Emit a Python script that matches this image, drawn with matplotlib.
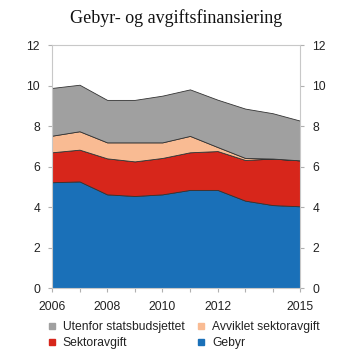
import matplotlib
matplotlib.use("Agg")
import matplotlib.pyplot as plt
from matplotlib.lines import Line2D

years = [2006, 2007, 2008, 2009, 2010, 2011, 2012, 2013, 2014, 2015]
gebyr = [5.23, 5.27, 4.63, 4.55, 4.63, 4.85, 4.85, 4.32, 4.10, 4.04]
sektoravgift = [1.48, 1.57, 1.78, 1.71, 1.80, 1.86, 1.92, 2.01, 2.30, 2.27]
avviklet = [0.82, 0.91, 0.79, 0.94, 0.77, 0.81, 0.20, 0.10, 0.0, 0.0]
utenfor = [2.36, 2.30, 2.10, 2.10, 2.31, 2.30, 2.34, 2.44, 2.24, 1.96]
labels = ["Gebyr", "Sektoravgift", "Avviklet sektoravgift", "Utenfor statsbudsjettet"]
colors = ["#1a70b8", "#d7261b", "#f9bb93", "#a0a0a0"]
xtick_labels = [2006, 2008, 2010, 2012, 2015]
yticks = [0, 2, 4, 6, 8, 10, 12]

plt.rcParams['font.family'] = ['Liberation Sans', 'DejaVu Sans']

fig = plt.figure(figsize=(3.53, 3.62), dpi=100)
ax = fig.add_axes([0.147, 0.2044, 0.704, 0.6705])
ax.stackplot(years, gebyr, sektoravgift, avviklet, utenfor, colors=colors,
             edgecolor="#333333", linewidth=0.6)
ax.set_xlim(2006, 2015)
ax.set_ylim(0, 12)
ax.set_yticks(yticks)
ax.set_xticks(years)
ax.set_xticklabels([str(y) if y in xtick_labels else "" for y in years])
for s in ax.spines.values():
    s.set_color("#c8c8c8")
    s.set_linewidth(0.8)
ax.tick_params(axis="both", direction="out", length=3, width=0.8, color="#b0b0b0",
               labelsize=8.7, labelcolor="#222222")
ax.tick_params(axis="y", pad=5.5, right=True, labelright=True)
ax.tick_params(axis="x", pad=6)

fig.text(0.5, 0.95, "Gebyr- og avgiftsfinansiering", ha="center", va="center",
         fontsize=13, family=["Liberation Serif", "DejaVu Serif"], color="#111111")

handles = [Line2D([], [], marker="s", linestyle="none", markersize=5,
                  markerfacecolor=c, markeredgecolor=c) for c in colors]
order = [3, 1, 2, 0]
fig.legend([handles[i] for i in order], [labels[i] for i in order], ncol=2,
           loc="center", bbox_to_anchor=(0.52, 0.075), frameon=False,
           fontsize=8.7, handlelength=0.8, handletextpad=0.5, columnspacing=1.0,
           labelspacing=0.35, labelcolor="#222222")

fig.savefig("out.png", dpi=100)
